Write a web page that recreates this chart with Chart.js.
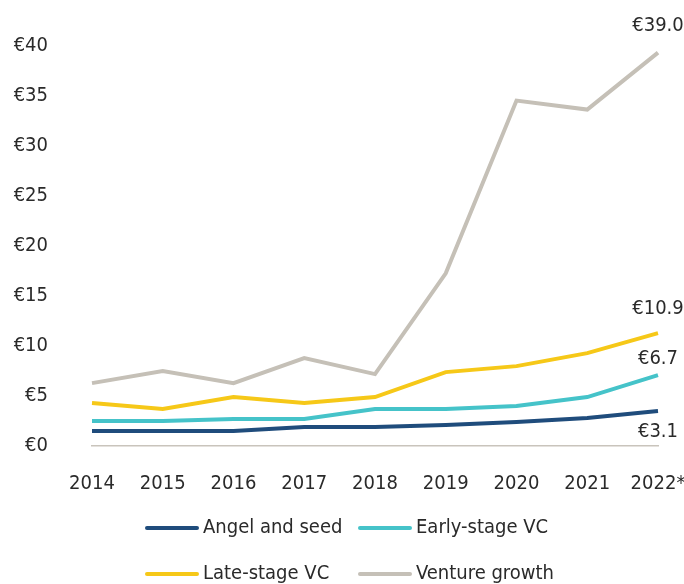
<!DOCTYPE html>
<html>
<head>
<meta charset="utf-8">
<script src="https://cdn.jsdelivr.net/npm/chart.js@4/dist/chart.umd.min.js"></script>
<style>
  html, body { margin: 0; padding: 0; background: #ffffff; }
  #wrap { width: 684px; height: 584px; }
</style>
</head>
<body>
<div id="wrap"><canvas id="chart" width="684" height="584"></canvas></div>
<script>
// Investment by stage, € billions
const years = ['2014', '2015', '2016', '2017', '2018', '2019', '2020', '2021', '2022*'];
const angelSeed     = [1.1, 1.1, 1.1, 1.5, 1.5, 1.7, 2.0, 2.4, 3.1];
const earlyStageVC  = [2.1, 2.1, 2.3, 2.3, 3.3, 3.3, 3.6, 4.5, 6.7];
const lateStageVC   = [3.9, 3.3, 4.5, 3.9, 4.5, 7.0, 7.6, 8.9, 10.9];
const ventureGrowth = [5.9, 7.1, 5.9, 8.4, 6.8, 16.9, 34.2, 33.3, 39.0];
const yTicks = [0, 5, 10, 15, 20, 25, 30, 35, 40];

const seriesNames = ['Angel and seed', 'Early-stage VC', 'Late-stage VC', 'Venture growth'];
const seriesColors = ['#1F4C7C', '#45C3C9', '#F6C818', '#C5C0B7'];
const seriesData = [angelSeed, earlyStageVC, lateStageVC, ventureGrowth];

const textColor = '#2A2A2A';
const fontFamily = '"Liberation Sans Narrow", "Arial Narrow", "DejaVu Sans Condensed", sans-serif';
const fontSize = 20;
Chart.defaults.font.family = fontFamily;
Chart.defaults.font.size = fontSize;
Chart.defaults.color = textColor;

// Value callouts at the last point of each series (baseline offset in px)
const endLabelOffsets = [26, -11, -19, -22];

const endLabels = {
  id: 'endLabels',
  afterDatasetsDraw(chart) {
    const ctx = chart.ctx;
    ctx.save();
    ctx.font = fontSize + 'px ' + fontFamily;
    ctx.fillStyle = textColor;
    ctx.textAlign = 'center';
    ctx.textBaseline = 'alphabetic';
    chart.data.datasets.forEach((ds, i) => {
      const meta = chart.getDatasetMeta(i);
      const last = meta.data[meta.data.length - 1];
      const v = ds.data[ds.data.length - 1];
      ctx.fillText('€' + v.toFixed(1), last.x, last.y + endLabelOffsets[i]);
    });
    ctx.restore();
  }
};

// Two-column legend below the axis
const gridLegend = {
  id: 'gridLegend',
  afterDraw(chart) {
    const ctx = chart.ctx;
    const cols = [145, 358];
    const rows = [528, 574];
    ctx.save();
    ctx.font = fontSize + 'px ' + fontFamily;
    ctx.textAlign = 'left';
    ctx.textBaseline = 'middle';
    chart.data.datasets.forEach((ds, i) => {
      const x = cols[i % 2];
      const y = rows[Math.floor(i / 2)];
      ctx.strokeStyle = ds.borderColor;
      ctx.lineWidth = 4;
      ctx.lineCap = 'round';
      ctx.beginPath();
      ctx.moveTo(x + 2, y);
      ctx.lineTo(x + 52, y);
      ctx.stroke();
      ctx.fillStyle = textColor;
      ctx.fillText(ds.label, x + 58, y);
    });
    ctx.restore();
  }
};

new Chart(document.getElementById('chart'), {
  type: 'line',
  data: {
    labels: years,
    datasets: seriesData.map((d, i) => ({
      label: seriesNames[i],
      data: d,
      borderColor: seriesColors[i],
      backgroundColor: seriesColors[i],
      borderWidth: 4,
      pointRadius: 0,
      pointHoverRadius: 0,
      tension: 0,
      fill: false
    }))
  },
  options: {
    responsive: false,
    animation: false,
    events: [],
    layout: { padding: { left: 0, right: 26, top: 42.7, bottom: 83.5 } },
    plugins: {
      legend: { display: false },
      tooltip: { enabled: false }
    },
    scales: {
      x: {
        type: 'category',
        offset: false,
        grid: { display: false, drawTicks: false },
        border: { display: true, color: '#C9C4BC', width: 1.5 },
        ticks: { padding: 26, color: textColor, maxRotation: 0, autoSkip: false },
        afterFit(scale) {
          scale.height = 55;
          scale.paddingLeft = 0;
          scale.paddingRight = 0;
        }
      },
      y: {
        min: -0.35,
        max: 40,
        grid: { display: false, drawTicks: false },
        border: { display: false },
        ticks: {
          stepSize: 5,
          padding: 44,
          labelOffset: 3.5,
          color: textColor,
          callback: (v) => '€' + v
        },
        afterBuildTicks(axis) {
          axis.ticks = yTicks.map(v => ({ value: v }));
        },
        afterFit(scale) {
          scale.width = 92;
          scale.paddingTop = 0;
          scale.paddingBottom = 0;
        }
      }
    }
  },
  plugins: [endLabels, gridLegend]
});
</script>
</body>
</html>
